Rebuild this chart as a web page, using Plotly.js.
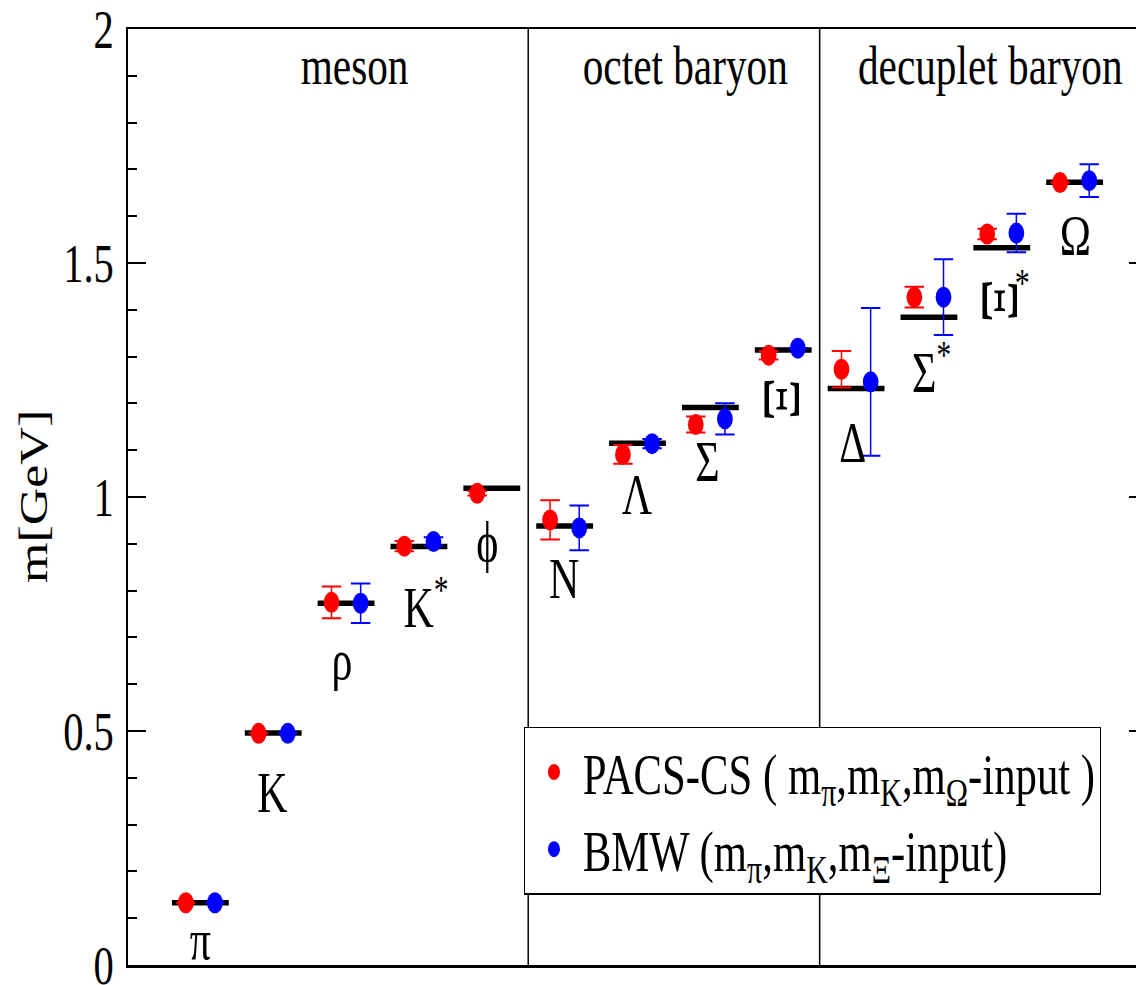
<!DOCTYPE html>
<html><head><meta charset="utf-8">
<script src="https://cdn.plot.ly/plotly-3.0.1.min.js"></script>
<style>
html,body{margin:0;padding:0;overflow:hidden;background:#fff;width:1136px;height:985px;}
#chart{width:1560px;height:985px;transform:scaleX(0.75);transform-origin:0 0;}
</style></head><body><div id="chart"></div>
<script>
// ---- data ----
const particles   = ['π','K','ρ','K*','ϕ','N','Λ','Σ','Ξ','Δ','Σ*','Ξ*','Ω'];
const groupNames  = ['meson','octet baryon','decuplet baryon'];
const groupSizes  = [5, 4, 4];
const experiment  = [0.133, 0.4955, 0.773, 0.894, 1.0185, 0.938, 1.1147, 1.1915, 1.314, 1.232, 1.384, 1.5327, 1.6724];
const pacsMass    = [0.133, 0.495, 0.775, 0.895, 1.008, 0.951, 1.091, 1.155, 1.303, 1.273, 1.427, 1.562, 1.672];
const pacsErr     = [0, 0, 0.034, 0.011, 0.005, 0.042, 0.020, 0.017, 0.009, 0.039, 0.022, 0.011, 0];
const bmwMass     = [0.133, 0.495, 0.773, 0.905, null, 0.934, 1.114, 1.167, 1.318, 1.246, 1.427, 1.564, 1.676];
const bmwErr      = [0, 0, 0.042, 0.009, null, 0.048, 0.010, 0.0335, 0, 0.158, 0.081, 0.041, 0.035];
const pacsName = 'PACS-CS ( m<sub>π</sub>,m<sub>K</sub>,m<sub>Ω</sub>-input )';
const bmwName  = 'BMW (m<sub>π</sub>,m<sub>K</sub>,m<sub>Ξ</sub>-input)';

// ---- layout constants (label placement, styles) ----
const FONT = '"Liberation Serif", "Times New Roman", Times, serif';
const OFF = 0.2, HALF = 0.39;
const labelSpec = [ // [text, x, y, angle, size]
  ['π', 0.995, 0.0534, 0, 56], ['K', 1.983, 0.3675, 0, 56], ['ρ', 2.943, 0.6517, 0, 56],
  ['K<sup>*</sup>', 4.096, 0.7735, 0, 56], ['ϕ', 4.933, 0.9038, 0, 56], ['N', 5.99, 0.8248, 0, 56],
  ['Λ', 6.99, 1.0043, 0, 56], ['Σ', 7.966, 1.0748, 0, 56], ['Ξ', 8.98, 1.2094, 90, 70],
  ['Δ', 9.955, 1.1154, 0, 56], ['Σ<sup>*</sup>', 11.04, 1.2756, 0, 56], ['Ξ', 11.97, 1.4188, 90, 70],
  ['*', 12.28, 1.458, 0, 40], ['Ω', 13.015, 1.5577, 0, 56]
];
const groupLabelX = [3.12, 7.65, 11.84], groupLabelY = 1.921;

const idx = particles.map((_, i) => i + 1);
const lineX = [], lineY = [];
idx.forEach((c, i) => { lineX.push(c - HALF, c + HALF, null); lineY.push(experiment[i], experiment[i], null); });

const traces = [
  {x: lineX, y: lineY, mode: 'lines', line: {color: 'black', width: 5.5}, showlegend: false, hoverinfo: 'skip'},
  {x: idx.map(c => c - OFF), y: pacsMass, mode: 'markers', name: pacsName,
   marker: {color: '#ff0000', size: 21},
   error_y: {type: 'data', array: pacsErr, visible: true, color: '#ff0000', thickness: 2, width: 13}},
  {x: idx.map(c => c + OFF), y: bmwMass, mode: 'markers', name: bmwName,
   marker: {color: '#0000ff', size: 21},
   error_y: {type: 'data', array: bmwErr, visible: true, color: '#0000ff', thickness: 2, width: 13}}
];

const shapes = [];
let acc = 0;
groupSizes.slice(0, -1).forEach(n => { acc += n;
  shapes.push({type: 'line', xref: 'x', yref: 'y', x0: acc + 0.5, x1: acc + 0.5, y0: 0, y1: 2,
               line: {color: 'black', width: 2}}); });

const annotations = labelSpec.map(([t, x, y, a, s]) => ({
  text: t, x: x, y: y, xref: 'x', yref: 'y', showarrow: false, textangle: a,
  xanchor: 'center', yanchor: 'middle', font: {family: FONT, size: s, color: 'black'}}));
groupNames.forEach((g, i) => annotations.push({text: g, x: groupLabelX[i], y: groupLabelY, xref: 'x', yref: 'y',
  showarrow: false, xanchor: 'center', yanchor: 'middle', font: {family: FONT, size: 55, color: 'black'}}));
annotations.push({text: 'm[GeV]', xref: 'paper', yref: 'paper', x: 0, y: 0.5, xshift: -125, textangle: -90,
  showarrow: false, xanchor: 'center', yanchor: 'middle', font: {family: FONT, size: 52, color: 'black'}});

const layout = {
  width: 1560, height: 985,
  margin: {l: 170, r: 30, t: 29, b: 20},
  paper_bgcolor: 'white', plot_bgcolor: 'white',
  font: {family: FONT, color: 'black'},
  showlegend: true,
  legend: {x: 0.3887, y: 0.2543, xanchor: 'left', yanchor: 'top', bgcolor: 'white',
           bordercolor: 'black', borderwidth: 1.5, itemwidth: 67,
           font: {family: FONT, size: 57, color: 'black'}},
  xaxis: {range: [0, 14], showticklabels: false, ticks: '', showline: true, mirror: true,
          linecolor: 'black', linewidth: 2.5, showgrid: false, zeroline: false, fixedrange: true},
  yaxis: {range: [0, 2], dtick: 0.5, tick0: 0, ticks: 'inside', ticklen: 25, tickwidth: 2, tickcolor: 'black',
          minor: {ticks: 'inside', ticklen: 13, tickwidth: 2, dtick: 0.1, tickcolor: 'black', showgrid: false},
          showline: true, mirror: 'ticks', linecolor: 'black', linewidth: 2.5, showgrid: false, zeroline: false,
          ticklabelstandoff: 5, ticklabeloverflow: 'allow', tickfont: {family: FONT, size: 54, color: 'black'}, fixedrange: true},
  shapes: shapes, annotations: annotations
};
Plotly.newPlot('chart', traces, layout, {displayModeBar: false, staticPlot: true});
</script></body></html>
